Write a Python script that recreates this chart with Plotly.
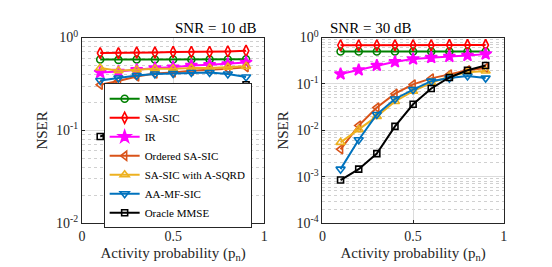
import plotly.graph_objects as go
from plotly.subplots import make_subplots

p = [0.1, 0.2, 0.3, 0.4, 0.5, 0.6, 0.7, 0.8, 0.9]

names = ["MMSE", "SA-SIC", "IR", "Ordered SA-SIC", "SA-SIC with A-SQRD", "AA-MF-SIC", "Oracle MMSE"]

# SNR = 10 dB
mmse_10 = [0.58, 0.575, 0.58, 0.58, 0.58, 0.58, 0.58, 0.58, 0.585]
sasic_10 = [0.68, 0.68, 0.69, 0.69, 0.70, 0.70, 0.70, 0.71, 0.72]
ir_10 = [0.42, 0.43, 0.45, 0.47, 0.48, 0.50, 0.51, 0.52, 0.54]
osasic_10 = [0.31, 0.34, 0.38, 0.41, 0.42, 0.44, 0.45, 0.46, 0.48]
sqrd_10 = [0.47, 0.44, 0.45, 0.46, 0.46, 0.47, 0.47, 0.48, 0.49]
aamf_10 = [0.345, 0.367, 0.39, 0.405, 0.41, 0.42, 0.42, 0.405, 0.376]
oracle_10 = [0.086, 0.10, 0.123, 0.151, 0.176, 0.214, 0.246, 0.28, 0.31]

# SNR = 30 dB
mmse_30 = [0.50, 0.50, 0.50, 0.50, 0.50, 0.50, 0.50, 0.50, 0.50]
sasic_30 = [0.68, 0.68, 0.68, 0.68, 0.68, 0.68, 0.69, 0.69, 0.69]
ir_30 = [0.164, 0.20, 0.25, 0.30, 0.344, 0.37, 0.39, 0.41, 0.44]
osasic_30 = [0.0039, 0.0127, 0.031, 0.0617, 0.098, 0.132, 0.161, 0.197, 0.22]
sqrd_30 = [0.0055, 0.0104, 0.02, 0.042, 0.07, 0.106, 0.145, 0.18, 0.19]
aamf_30 = [0.00146, 0.0063, 0.022, 0.0475, 0.0757, 0.115, 0.134, 0.149, 0.134]
oracle_30 = [0.00085, 0.00146, 0.00316, 0.0122, 0.0365, 0.08, 0.138, 0.197, 0.25]

x_ticks = [0, 0.5, 1]
x_ticktext = ["0", "0.5", "1"]
y10_ticks = [0.01, 0.1, 1]
y10_ticktext = ["10<sup>-2</sup>", "10<sup>-1</sup>", "10<sup>0</sup>"]
y30_ticks = [0.0001, 0.001, 0.01, 0.1, 1]
y30_ticktext = ["10<sup>-4</sup>", "10<sup>-3</sup>", "10<sup>-2</sup>", "10<sup>-1</sup>", "10<sup>0</sup>"]

colors = ["#008000", "#FF0000", "#FF00FF", "#D95319", "#EDB120", "#0072BD", "#000000"]
symbols = ["circle-open", "diamond-tall-open", "star", "triangle-left-open",
           "triangle-up-open", "triangle-down-open", "square-open"]
sizes = [7, 8, 9, 8, 8, 8, 6]

data10 = [mmse_10, sasic_10, ir_10, osasic_10, sqrd_10, aamf_10, oracle_10]
data30 = [mmse_30, sasic_30, ir_30, osasic_30, sqrd_30, aamf_30, oracle_30]

FONT = "Liberation Serif, Times New Roman, serif"

fig = make_subplots(rows=1, cols=2)

for i, n in enumerate(names):
    fig.add_trace(go.Scatter(x=p, y=data10[i], name=n, mode="lines+markers",
                             line=dict(color=colors[i], width=2),
                             marker=dict(symbol=symbols[i], size=sizes[i], color=colors[i],
                                         line=dict(width=1.6, color=colors[i])),
                             showlegend=True), row=1, col=1)
for i, n in enumerate(names):
    fig.add_trace(go.Scatter(x=p, y=data30[i], name=n, mode="lines+markers",
                             line=dict(color=colors[i], width=2),
                             marker=dict(symbol=symbols[i], size=sizes[i], color=colors[i],
                                         line=dict(width=1.6, color=colors[i])),
                             showlegend=False), row=1, col=2)


def minor_vals(lo, hi):
    vals = []
    for e in range(lo, hi):
        for k in range(2, 10):
            vals.append(k * 10.0 ** e)
    return vals


xcommon = dict(range=[0, 1], tickmode="array", tickvals=x_ticks, ticktext=x_ticktext,
               showgrid=True, gridcolor="#DCDCDC", gridwidth=1,
               showline=True, linecolor="#262626", linewidth=1, mirror=True,
               ticks="inside", ticklen=3, tickcolor="#262626",
               zeroline=False, tickfont=dict(family=FONT, size=14, color="#262626"),
               title=dict(text="Activity probability (p<sub>n</sub>)",
                          font=dict(family=FONT, size=15, color="#262626"),
                          standoff=4))
ycommon = dict(type="log", tickmode="array", showgrid=True, gridcolor="#DCDCDC", gridwidth=1,
               showline=True, linecolor="#262626", linewidth=1, mirror=True,
               ticks="inside", ticklen=3, tickcolor="#262626",
               zeroline=False, tickfont=dict(family=FONT, size=14, color="#262626"),
               title=dict(text="NSER", font=dict(family=FONT, size=15, color="#262626"), standoff=4))

fig.update_xaxes(**xcommon, domain=[71 / 552, 256 / 552], row=1, col=1)
fig.update_xaxes(**xcommon, domain=[315 / 552, 499 / 552], row=1, col=2)
fig.update_yaxes(**ycommon, range=[-2, 0], tickvals=y10_ticks, ticktext=y10_ticktext,
                 minor=dict(tickmode="array", tickvals=minor_vals(-2, 0), showgrid=True,
                            gridcolor="#D0D0D0", griddash="dot", gridwidth=1, ticks=""),
                 domain=[47 / 267, 246 / 267], row=1, col=1)
fig.update_yaxes(**ycommon, range=[-4, 0], tickvals=y30_ticks, ticktext=y30_ticktext,
                 minor=dict(tickmode="array", tickvals=minor_vals(-4, 0), showgrid=True,
                            gridcolor="#D0D0D0", griddash="dot", gridwidth=1, ticks=""),
                 domain=[47 / 267, 246 / 267], row=1, col=2)

fig.add_annotation(text="SNR = 10 dB", x=(71 + 256) / 2 / 552, y=(267 - 11) / 267,
                   xref="paper", yref="paper", showarrow=False,
                   font=dict(family=FONT, size=15, color="#000000"), yanchor="middle")
fig.add_annotation(text="SNR = 30 dB", x=(315 + 499) / 2 / 552, y=(267 - 11) / 267,
                   xref="paper", yref="paper", showarrow=False,
                   font=dict(family=FONT, size=15, color="#000000"), yanchor="middle")

fig.update_layout(
    width=552, height=267,
    margin=dict(l=0, r=0, t=0, b=0),
    paper_bgcolor="white", plot_bgcolor="white",
    font=dict(family=FONT, color="#262626", size=12),
    legend=dict(x=93 / 552, y=(267 - 70) / 267, xanchor="left", yanchor="top",
                bgcolor="white", bordercolor="#262626", borderwidth=1,
                font=dict(family=FONT, size=11, color="#000000"), itemwidth=30,
                tracegroupgap=0),
)

fig.write_html("out.html")
